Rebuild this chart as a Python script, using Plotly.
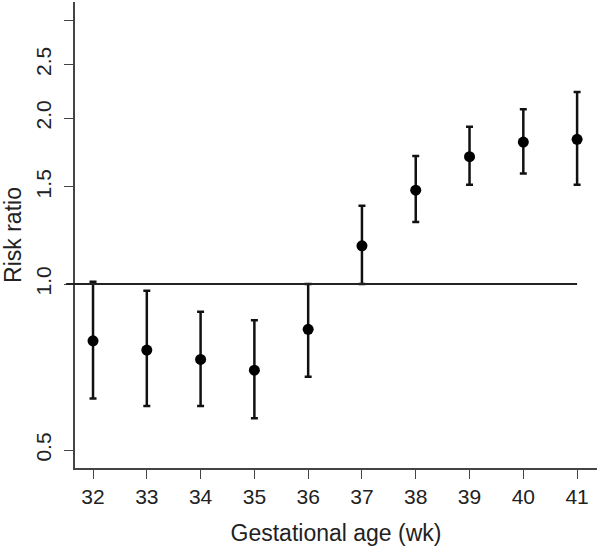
import plotly.graph_objects as go
import math

weeks = [32, 33, 34, 35, 36, 37, 38, 39, 40, 41]
risk_ratio = [0.789, 0.759, 0.730, 0.698, 0.828, 1.173, 1.48, 1.702, 1.809, 1.83]
ci_lower = [0.620, 0.601, 0.601, 0.571, 0.679, 1.0, 1.296, 1.514, 1.587, 1.514]
ci_upper = [1.01, 0.972, 0.891, 0.860, 1.0, 1.386, 1.706, 1.929, 2.074, 2.229]
y_tickvals = [0.5, 1.0, 1.5, 2.0, 2.5, 3.0]
y_ticktext = ["0.5", "1.0", "1.5", "2.0", "2.5", ""]
reference_value = 1.0
reference_x_start = 31.5

x_range = [31.665, 41.37]
y_range = [0.464, 3.246]

font_family = "Arial, Liberation Sans, sans-serif"

fig = go.Figure()
fig.add_trace(go.Scatter(
    x=weeks, y=risk_ratio, mode="markers",
    marker=dict(color="black", size=11),
    error_y=dict(
        type="data", symmetric=False,
        array=[u - r for u, r in zip(ci_upper, risk_ratio)],
        arrayminus=[r - l for r, l in zip(risk_ratio, ci_lower)],
        color="#111111", thickness=2.5, width=3.5,
    ),
    showlegend=False, cliponaxis=False,
))

# reference line at RR = 1 (extends slightly left of the axis, as in R's abline)
def x_to_paper(v):
    return (v - x_range[0]) / (x_range[1] - x_range[0])

fig.add_shape(type="line", xref="paper", yref="y",
              x0=x_to_paper(reference_x_start), x1=x_to_paper(weeks[-1]),
              y0=reference_value, y1=reference_value,
              line=dict(color="#222222", width=2))

fig.update_layout(
    width=600, height=547,
    margin=dict(l=75, r=3, t=2, b=79),
    plot_bgcolor="white", paper_bgcolor="white",
    font=dict(family=font_family, color="#222222"),
    xaxis=dict(
        range=x_range, automargin=False,
        tickvals=weeks, ticktext=[str(w) for w in weeks],
        showgrid=False, zeroline=False,
        showline=True, linecolor="#444444", linewidth=1.5,
        ticks="outside", ticklen=9, tickwidth=1.2, tickcolor="#444444",
        tickfont=dict(size=21),
        title=dict(text="Gestational age (wk)", font=dict(size=23), standoff=18),
    ),
    yaxis=dict(
        type="log", automargin=False,
        range=[math.log10(y_range[0]), math.log10(y_range[1])],
        tickvals=y_tickvals, ticktext=y_ticktext,
        tickangle=-90, ticklabelstandoff=5,
        showgrid=False, zeroline=False,
        showline=True, linecolor="#444444", linewidth=1.5,
        ticks="outside", ticklen=9, tickwidth=1.2, tickcolor="#444444",
        tickfont=dict(size=21),
        title=dict(text="Risk ratio", font=dict(size=23), standoff=6),
    ),
)

fig.write_html("out.html",
               config={"displayModeBar": False},
               post_script="document.body.style.margin='0';document.body.style.overflow='hidden';")
